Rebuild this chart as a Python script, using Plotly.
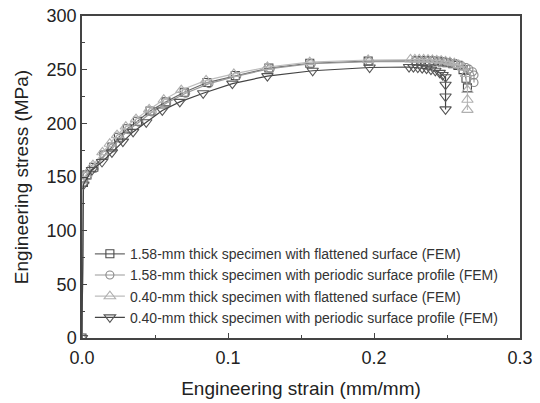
import plotly.graph_objects as go

names = [
    "1.58-mm thick specimen with flattened surface (FEM)",
    "1.58-mm thick specimen with periodic surface profile (FEM)",
    "0.40-mm thick specimen with flattened surface (FEM)",
    "0.40-mm thick specimen with periodic surface profile (FEM)",
]

strain_sq = [0, 0.001, 0.0034, 0.008, 0.015, 0.0205, 0.025, 0.031, 0.038, 0.0466, 0.0575, 0.070, 0.0856, 0.105, 0.128,
             0.156, 0.196, 0.229, 0.232, 0.235, 0.238, 0.241, 0.244, 0.247, 0.250, 0.254, 0.2575, 0.261, 0.263, 0.264]
stress_sq = [0, 145, 152, 159, 170.5, 178, 187, 195, 202, 211.5, 220, 229, 238, 244.5, 251.5,
             256, 258, 258.5, 258.5, 258.5, 258.3, 258, 257.8, 257.3, 256.6, 255.5, 254, 250, 242, 233]

strain_ci = [0, 0.001, 0.0036, 0.0085, 0.0155, 0.021, 0.026, 0.032, 0.039, 0.048, 0.058, 0.071, 0.087, 0.106, 0.129,
             0.157, 0.197, 0.228, 0.232, 0.236, 0.240, 0.244, 0.248, 0.252, 0.256, 0.260, 0.263, 0.265, 0.2675, 0.2685, 0.2685]
stress_ci = [0, 145, 151, 158, 170, 177, 186, 194, 201, 210.5, 219, 228, 237, 244, 251,
             255.5, 257.5, 258, 258, 258, 257.7, 257.3, 256.7, 256, 255, 253.5, 252, 250.5, 248, 245, 238]

strain_tu = [0, 0.001, 0.003, 0.0075, 0.014, 0.019, 0.024, 0.030, 0.037, 0.046, 0.056, 0.068, 0.085, 0.104, 0.127,
             0.156, 0.196, 0.225, 0.228, 0.231, 0.234, 0.237, 0.240, 0.243, 0.246, 0.249, 0.252, 0.255, 0.258,
             0.261, 0.263, 0.264, 0.264, 0.264]
stress_tu = [0, 146, 153, 161, 173, 181, 189, 197, 204, 213, 222, 231, 240, 246, 252.5,
             257, 259, 259.5, 259.5, 259.5, 259.5, 259.3, 259, 258.7, 258.3, 257.8, 257, 256, 254.5,
             252, 246, 231, 222, 212.5]

strain_td = [0, 0.001, 0.0068, 0.0137, 0.0205, 0.028, 0.035, 0.044, 0.055, 0.067, 0.083, 0.103, 0.127, 0.158, 0.197,
             0.224, 0.227, 0.230, 0.233, 0.236, 0.239, 0.242, 0.245, 0.247, 0.249, 0.249, 0.249, 0.249]
stress_td = [0, 143, 156.5, 164, 173, 183, 192, 201, 212, 220, 228, 237, 244, 249, 252,
             252.5, 252.3, 252, 251.5, 251, 250, 249, 247, 245, 243, 236, 225, 213]

series = [
    (strain_sq, stress_sq, "square-open", "#4a4a4a", "#6a6a6a", 8),
    (strain_ci, stress_ci, "circle-open", "#8a8a8a", "#9a9a9a", 8),
    (strain_tu, stress_tu, "triangle-up-open", "#b0b0b0", "#bdbdbd", 10),
    (strain_td, stress_td, "triangle-down-open", "#555555", "#444444", 10),
]

fig = go.Figure()
for (x, y, sym, mcol, lcol, ms), nm in zip(series, names):
    fig.add_trace(go.Scatter(
        x=x, y=y, name=nm, mode="lines+markers",
        line=dict(color=lcol, width=1.2),
        marker=dict(symbol=sym, size=ms, color=mcol, line=dict(width=1.1, color=mcol)),
    ))

axis_common = dict(
    showgrid=False, zeroline=False, showline=True, linecolor="#444444", linewidth=1.5,
    mirror=True, ticks="inside", ticklen=5, tickcolor="#444444", tickwidth=1.2,
    minor=dict(ticks="inside", ticklen=3, tickcolor="#444444"), automargin=False,
    ticklabeloverflow="allow",
)

fig.update_layout(
    width=540, height=403,
    margin=dict(l=82, r=20, t=16, b=65),
    paper_bgcolor="white", plot_bgcolor="white",
    font=dict(family="Arial, Liberation Sans, sans-serif", color="#222222"),
    showlegend=True,
    legend=dict(x=0.018, y=0.31, xanchor="left", yanchor="top", bgcolor="rgba(0,0,0,0)",
                font=dict(size=14, color="#333333"), tracegroupgap=0),
    xaxis=dict(range=[0, 0.3], dtick=0.1, tickformat=".1f", ticklabelstandoff=3,
               title=dict(text="Engineering strain (mm/mm)", font=dict(size=19), standoff=14),
               tickfont=dict(size=18), minor_dtick=0.05, **axis_common),
    yaxis=dict(range=[0, 300], dtick=50,
               title=dict(text="Engineering stress (MPa)", font=dict(size=19), standoff=13),
               tickfont=dict(size=18), minor_dtick=25, **axis_common),
)

# remove the browser's default 8px page margin so the figure fills the window exactly
fig.write_html("out.html", config={"displayModeBar": False},
               post_script="document.body.style.margin='0px';")
